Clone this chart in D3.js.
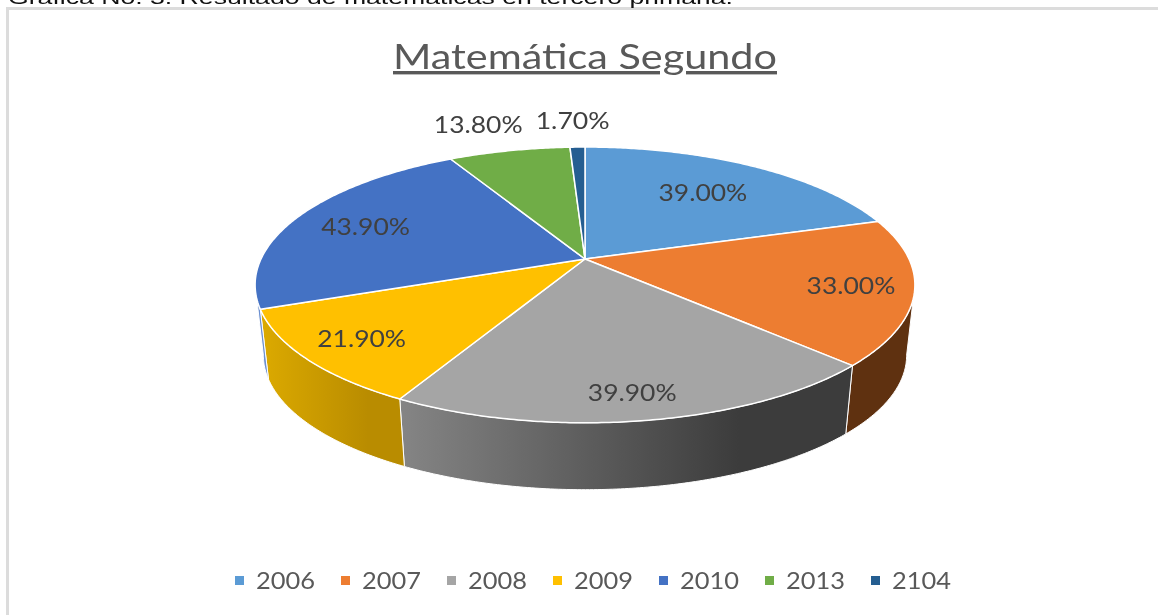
<!DOCTYPE html>
<html>
<head>
<meta charset="utf-8">
<script src="https://cdn.jsdelivr.net/npm/d3@7"></script>
<style>
  html, body { margin: 0; padding: 0; background: #fff; overflow: hidden; }
  text { font-family: Lato, "Open Sans", sans-serif; }
  /* the reference is a soft, resampled screenshot */
  #main { filter: blur(0.5px); }
</style>
</head>
<body>
<svg id="main"></svg>
<script>
var years = ["2006", "2007", "2008", "2009", "2010", "2013", "2104"];
var values = [39.0, 33.0, 39.9, 21.9, 43.9, 13.8, 1.7];
var labels = ["39.00%", "33.00%", "39.90%", "21.90%", "43.90%", "13.80%", "1.70%"];
var colors = ["#5b9bd5", "#ed7d31", "#a5a5a5", "#ffc000", "#4472c4", "#70ad47", "#255e91"];
var wallFrom = ["#5b9bd5", "#5f3110", "#858585", "#dcaa00", "#6c90d0", "#70ad47", "#255e91"];
var wallTo = ["#5b9bd5", "#5f3110", "#3c3c3c", "#b98c00", "#6c90d0", "#70ad47", "#255e91"];

var w = 1158;
var h = 615;

// pie is a tilted disc, k is the perspective so the centre sits above the ellipse middle
var cx = 585;
var cy = 259;
var radiusX = 324;
var radiusY = 133;
var k = 0.188;
var depthShrink = 0.975;
var cyBottom = 330;

// how far along the radius each label sits (1 = on the rim), plus a sideways nudge
var labelRadius = [0.69, 0.82, 0.85, 0.815, 0.75, 1.31, 1.3];
var labelNudge = [0, 0, 0, 0, 0, -10, -1];

var svg = d3.select("#main")
  .attr("width", w)
  .attr("height", h)
  .style("display", "block");

function project(angle, rho, isBottom) {
  var u = Math.sin(angle) * rho;
  var v = -Math.cos(angle) * rho;
  var d = 1 - k * v;
  var s = isBottom ? depthShrink : 1;
  return [
    cx + s * radiusX * u / d,
    (isBottom ? cyBottom : cy) + s * radiusY * v / d
  ];
}

function arcPoints(a0, a1, isBottom) {
  var n = Math.max(2, Math.ceil((a1 - a0) / 0.01));
  return d3.range(n + 1).map(function(i) {
    return project(a0 + (a1 - a0) * i / n, 1, isBottom);
  });
}

var line = d3.line();

var pie = d3.pie().sort(null).value(function(d) { return d; });
var slices = pie(values);

// frame and the clipped caption of the page above the chart
svg.append("rect").attr("x", 6).attr("y", 7).attr("width", w).attr("height", 3).attr("fill", "#dcdcdc");
svg.append("rect").attr("x", 6).attr("y", 7).attr("width", 3).attr("height", h).attr("fill", "#dcdcdc");

svg.append("text")
  .attr("x", 8)
  .attr("y", 4)
  .attr("textLength", 725)
  .attr("lengthAdjust", "spacingAndGlyphs")
  .style("font-family", "'Liberation Sans', Arial, sans-serif")
  .style("font-size", "19px")
  .attr("fill", "#111")
  .text("Gráfica No. 3. Resultado de matemáticas en tercero primaria.");

svg.append("text")
  .attr("x", 393)
  .attr("y", 69)
  .attr("textLength", 384)
  .attr("lengthAdjust", "spacingAndGlyphs")
  .style("font-size", "34px")
  .style("text-decoration", "underline")
  .attr("fill", "#595959")
  .text("Matemática Segundo");

var defs = svg.append("defs");
slices.forEach(function(d, i) {
  var grad = defs.append("linearGradient").attr("id", "wall" + i);
  grad.append("stop").attr("offset", "0%").attr("stop-color", wallFrom[i]);
  grad.append("stop").attr("offset", "75%").attr("stop-color", wallTo[i]);
});

// side wall only shows between the two tangent points of the rim
var wallStart = Math.PI - Math.acos(k);
var wallEnd = Math.PI + Math.acos(k);

svg.append("g")
  .selectAll("path")
  .data(slices.filter(function(d) {
    return d.endAngle > wallStart && d.startAngle < wallEnd;
  }))
  .enter()
  .append("path")
  .attr("d", function(d) {
    var a0 = Math.max(d.startAngle, wallStart);
    var a1 = Math.min(d.endAngle, wallEnd);
    return line(arcPoints(a0, a1, false).concat(arcPoints(a0, a1, true).reverse())) + "Z";
  })
  .attr("fill", function(d) { return "url(#wall" + d.index + ")"; })
  .attr("stroke", "#fff")
  .attr("stroke-width", 1)
  .attr("stroke-linejoin", "round");

svg.append("g")
  .selectAll("path")
  .data(slices)
  .enter()
  .append("path")
  .attr("d", function(d) {
    return line([[cx, cy]].concat(arcPoints(d.startAngle, d.endAngle, false))) + "Z";
  })
  .attr("fill", function(d) { return colors[d.index]; })
  .attr("stroke", "#fff")
  .attr("stroke-width", 1.5)
  .attr("stroke-linejoin", "round");

svg.append("g")
  .selectAll("text")
  .data(slices)
  .enter()
  .append("text")
  .attr("x", function(d) {
    var p = project((d.startAngle + d.endAngle) / 2, labelRadius[d.index], false);
    return p[0] + labelNudge[d.index] - 2 - labels[d.index].length * 7.4;
  })
  .attr("y", function(d) {
    return project((d.startAngle + d.endAngle) / 2, labelRadius[d.index], false)[1] + 9;
  })
  .attr("textLength", function(d) { return labels[d.index].length * 14.8; })
  .attr("lengthAdjust", "spacingAndGlyphs")
  .style("font-size", "23px")
  .attr("fill", "#404040")
  .text(function(d) { return labels[d.index]; });

// legend
var legendX = d3.scalePoint().domain(years).range([235, 871]);

var legend = svg.append("g")
  .selectAll("g")
  .data(years)
  .enter()
  .append("g")
  .attr("transform", function(d) { return "translate(" + legendX(d) + ",580)"; });

legend.append("rect")
  .attr("y", -4)
  .attr("width", 9)
  .attr("height", 9)
  .attr("fill", function(d, i) { return colors[i]; });

legend.append("text")
  .attr("x", 21)
  .attr("y", 9)
  .attr("textLength", 59)
  .attr("lengthAdjust", "spacingAndGlyphs")
  .style("font-size", "23px")
  .attr("fill", "#595959")
  .text(function(d) { return d; });
</script>
</body>
</html>
